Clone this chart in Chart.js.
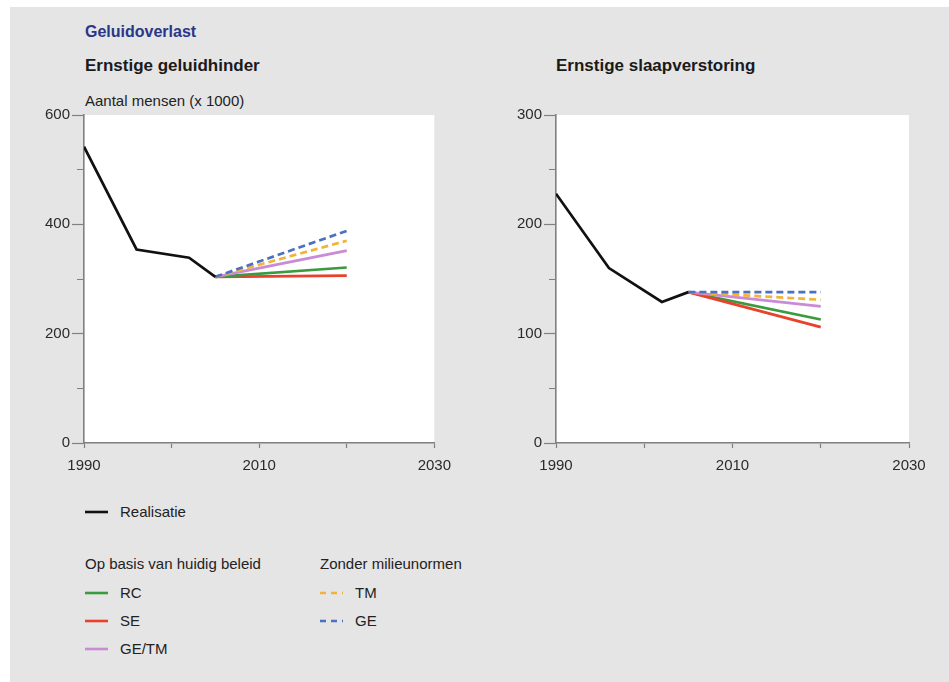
<!DOCTYPE html>
<html lang="nl">
<head>
<meta charset="UTF-8">
<title>Geluidoverlast</title>
<script src="https://cdn.jsdelivr.net/npm/chart.js"></script>
<style>
    body {
        margin: 0;
        width: 949px;
        height: 682px;
        background: #ffffff;
        font-family: "Liberation Sans", Arial, sans-serif;
        overflow: hidden;
    }
    #panel {
        position: absolute;
        left: 10px;
        top: 7px;
        width: 939px;
        height: 675px;
        background: #e5e5e5;
    }
    .txt {
        position: absolute;
        white-space: nowrap;
        line-height: 1;
        color: #1a1a1a;
    }
    canvas { position: absolute; }
    .leg { position: absolute; }
</style>
</head>
<body>
<div id="panel"></div>

<div class="txt" style="left:85px; top:24px; font-size:16px; font-weight:bold; color:#2b3688;">Geluidoverlast</div>
<div class="txt" style="left:85px; top:57px; font-size:17px; font-weight:bold;">Ernstige geluidhinder</div>
<div class="txt" style="left:556px; top:57px; font-size:17px; font-weight:bold;">Ernstige slaapverstoring</div>
<div class="txt" style="left:85px; top:93px; font-size:15px; color:#222;">Aantal mensen (x 1000)</div>

<canvas id="hinderChart" width="430" height="385" style="left:30px; top:100px;"></canvas>
<canvas id="slaapChart" width="435" height="385" style="left:500px; top:100px;"></canvas>

<div id="legend"></div>

<script>
    // years and values
    const realYears = [1990, 1996, 2002, 2005];
    const projYears = [2005, 2020];

    // Ernstige geluidhinder (x 1000)
    const hinderReal = [542, 354, 339, 304];
    const hinderRC = [304, 321];
    const hinderSE = [304, 306];
    const hinderGETM = [304, 352];
    const hinderTM = [304, 370];
    const hinderGE = [304, 388];

    // Ernstige slaapverstoring (x 1000)
    const slaapReal = [228, 160, 129, 138];
    const slaapRC = [138, 113];
    const slaapSE = [138, 106];
    const slaapGETM = [138, 125];
    const slaapTM = [138, 131];
    const slaapGE = [138, 138];

    const xTicks = [1990, 2010, 2030];

    const colors = {
        real: '#111111',
        RC: '#3b9a3e',
        SE: '#e8412c',
        GETM: '#c98ad6',
        TM: '#f3b33a',
        GE: '#4a72c0'
    };

    function pts(xs, ys) {
        return xs.map((x, i) => ({ x: x, y: ys[i] }));
    }

    function line(label, xs, ys, color, dashed) {
        return {
            label: label,
            data: pts(xs, ys),
            borderColor: color,
            backgroundColor: color,
            borderWidth: 2.7,
            borderDash: dashed ? [7, 4] : [],
            pointRadius: 0,
            tension: 0,
            fill: false
        };
    }

    // white plot area
    const plotBg = {
        id: 'plotBg',
        beforeDraw(chart) {
            const a = chart.chartArea;
            const c = chart.ctx;
            c.save();
            c.fillStyle = '#ffffff';
            c.fillRect(a.left, a.top, a.right - a.left, a.bottom - a.top);
            c.restore();
        }
    };

    function makeChart(id, yMax, yStep, yLabelStep, yWidth, padRight, sets) {
        const tickFont = { family: '"Liberation Sans", Arial, sans-serif', size: 15 };
        return new Chart(document.getElementById(id), {
            type: 'line',
            data: { datasets: sets },
            options: {
                responsive: false,
                animation: false,
                devicePixelRatio: 1,
                layout: { padding: { top: 15, right: padRight, left: 0, bottom: 0 } },
                plugins: { legend: { display: false }, tooltip: { enabled: false } },
                scales: {
                    x: {
                        type: 'linear',
                        min: 1990,
                        max: 2030,
                        afterFit(scale) { scale.height = 42; },
                        ticks: {
                            stepSize: 10,
                            color: '#2a2a2a',
                            font: tickFont,
                            padding: 9,
                            maxRotation: 0,
                            callback: v => xTicks.includes(v) ? String(v) : ''
                        },
                        grid: {
                            drawOnChartArea: false,
                            tickLength: 5,
                            tickColor: '#808080',
                            tickWidth: 1.2
                        },
                        border: { display: true, color: '#808080', width: 1.6 }
                    },
                    y: {
                        min: 0,
                        max: yMax,
                        afterFit(scale) { scale.width = yWidth; },
                        ticks: {
                            stepSize: yStep,
                            color: '#2a2a2a',
                            font: tickFont,
                            padding: 2,
                            callback: v => v % yLabelStep === 0 ? String(v) : ''
                        },
                        grid: {
                            drawOnChartArea: false,
                            tickLength: 12,
                            tickColor: '#808080',
                            tickWidth: 1.2,
                            // minor ticks: only the 7px next to the axis
                            tickBorderDash: ctx => (ctx.tick && ctx.tick.value % yLabelStep !== 0) ? [0, 5, 7, 20] : []
                        },
                        border: { display: true, color: '#808080', width: 1.6 }
                    }
                }
            },
            plugins: [plotBg]
        });
    }

    makeChart('hinderChart', 600, 100, 200, 54, 22, [
        line('Realisatie', realYears, hinderReal, colors.real, false),
        line('GE', projYears, hinderGE, colors.GE, true),
        line('TM', projYears, hinderTM, colors.TM, true),
        line('GE/TM', projYears, hinderGETM, colors.GETM, false),
        line('RC', projYears, hinderRC, colors.RC, false),
        line('SE', projYears, hinderSE, colors.SE, false)
    ]);

    makeChart('slaapChart', 300, 50, 100, 56, 26, [
        line('Realisatie', realYears, slaapReal, colors.real, false),
        line('GE', projYears, slaapGE, colors.GE, true),
        line('TM', projYears, slaapTM, colors.TM, true),
        line('GE/TM', projYears, slaapGETM, colors.GETM, false),
        line('SE', projYears, slaapSE, colors.SE, false),
        line('RC', projYears, slaapRC, colors.RC, false)
    ]);

    // legend below the charts
    const legendItems = [
        { text: 'Realisatie', color: colors.real, dash: false, x: 85, y: 512 },
        { text: 'RC', color: colors.RC, dash: false, x: 85, y: 593 },
        { text: 'SE', color: colors.SE, dash: false, x: 85, y: 621 },
        { text: 'GE/TM', color: colors.GETM, dash: false, x: 85, y: 649 },
        { text: 'TM', color: colors.TM, dash: true, x: 320, y: 593 },
        { text: 'GE', color: colors.GE, dash: true, x: 320, y: 621 }
    ];
    const legendHeads = [
        { text: 'Op basis van huidig beleid', x: 85, y: 564 },
        { text: 'Zonder milieunormen', x: 320, y: 564 }
    ];

    const legend = document.getElementById('legend');
    legendItems.forEach(it => {
        const svg = `<svg class="leg" width="24" height="6" style="left:${it.x}px; top:${it.y - 3}px;">
            <line x1="0" y1="3" x2="23" y2="3" stroke="${it.color}" stroke-width="2.6"
            ${it.dash ? 'stroke-dasharray="6,5"' : ''}/></svg>`;
        legend.insertAdjacentHTML('beforeend', svg);
        legend.insertAdjacentHTML('beforeend',
            `<div class="txt" style="left:${it.x + 35}px; top:${it.y - 8}px; font-size:15px; color:#222;">${it.text}</div>`);
    });
    legendHeads.forEach(h => {
        legend.insertAdjacentHTML('beforeend',
            `<div class="txt" style="left:${h.x}px; top:${h.y - 8}px; font-size:15px; color:#222;">${h.text}</div>`);
    });
</script>
</body>
</html>
